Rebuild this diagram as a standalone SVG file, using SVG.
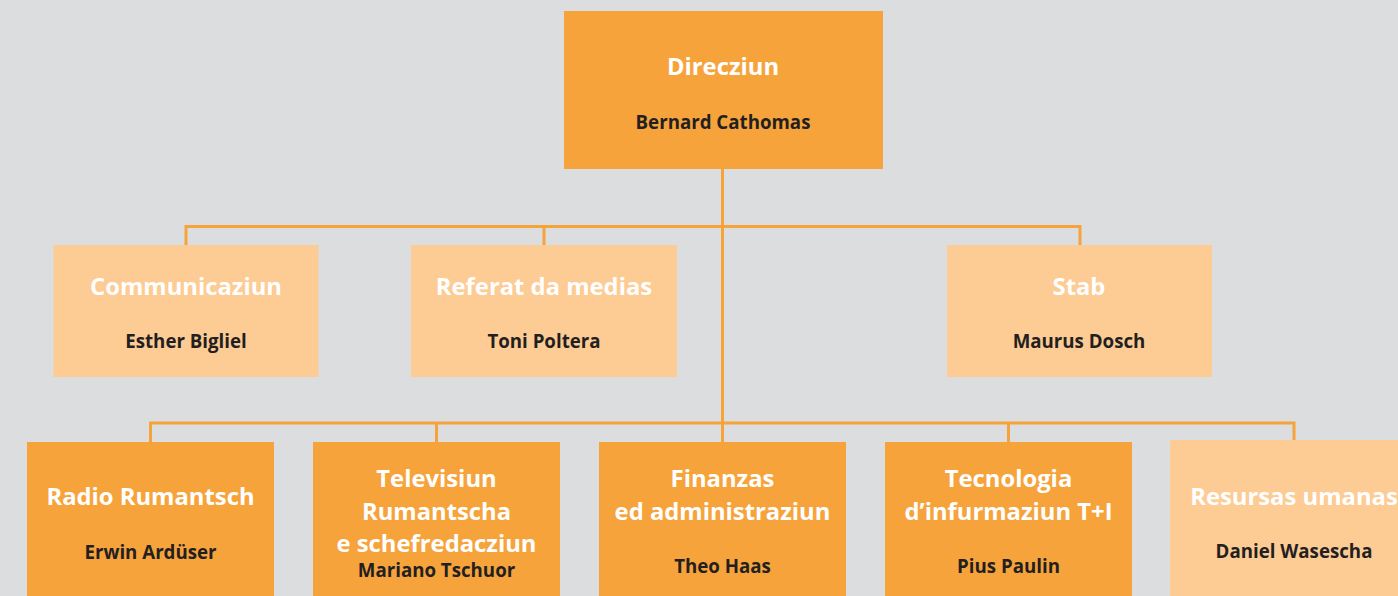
<svg xmlns="http://www.w3.org/2000/svg" width="1398" height="596" viewBox="0 0 1398 596">
<style>
.bg{fill:#dcdddf}
.dark{fill:#f7a33c}
.light{fill:#fdcb94}
.t{font-family:"Open Sans","Liberation Sans",sans-serif;font-weight:700;font-size:23.8px;fill:#ffffff;text-anchor:middle}
.n{font-family:"Open Sans","Liberation Sans",sans-serif;font-weight:700;font-size:18.7px;fill:#231f20;text-anchor:middle}
.c{fill:none;stroke:#f7a33c;stroke-width:3}
</style>
<rect class="bg" x="0" y="0" width="1398" height="596"/>
<g id="connectors">
<path class="c" d="M722.5 169 V442"/>
<path class="c" d="M186 245 V226.5 H1080 V245"/>
<path class="c" d="M544 226.5 V245"/>
<path class="c" d="M150.5 442 V423 H1294 V440"/>
<path class="c" d="M436.5 423 V442"/>
<path class="c" d="M1008.5 423 V442"/>
</g>
<g id="direcziun">
<rect class="dark" x="564" y="11" width="319" height="158"/>
<text class="t" x="723" y="75">Direcziun</text>
<text class="n" x="723" y="129">Bernard Cathomas</text>
</g>
<g id="communicaziun">
<rect class="light" x="53.5" y="245" width="265" height="132"/>
<text class="t" x="186" y="295">Communicaziun</text>
<text class="n" x="186" y="348">Esther Bigliel</text>
</g>
<g id="referat">
<rect class="light" x="411" y="245" width="266" height="132"/>
<text class="t" x="544" y="295">Referat da medias</text>
<text class="n" x="544" y="348">Toni Poltera</text>
</g>
<g id="stab">
<rect class="light" x="947" y="245" width="265" height="132"/>
<text class="t" x="1079" y="295">Stab</text>
<text class="n" x="1079" y="348">Maurus Dosch</text>
</g>
<g id="radio">
<rect class="dark" x="27" y="442" width="247" height="160"/>
<text class="t" x="150.5" y="505">Radio Rumantsch</text>
<text class="n" x="150.5" y="559">Erwin Ardüser</text>
</g>
<g id="televisiun">
<rect class="dark" x="313" y="442" width="247" height="160"/>
<text class="t" x="436.5" y="487">Televisiun</text>
<text class="t" x="436.5" y="520">Rumantscha</text>
<text class="t" x="436.5" y="552">e schefredacziun</text>
<text class="n" x="436.5" y="577">Mariano Tschuor</text>
</g>
<g id="finanzas">
<rect class="dark" x="599" y="442" width="247" height="160"/>
<text class="t" x="722.5" y="487">Finanzas</text>
<text class="t" x="722.5" y="520">ed administraziun</text>
<text class="n" x="722.5" y="573">Theo Haas</text>
</g>
<g id="tecnologia">
<rect class="dark" x="885" y="442" width="247" height="160"/>
<text class="t" x="1008.5" y="487">Tecnologia</text>
<text class="t" x="1008.5" y="520">d’infurmaziun T+I</text>
<text class="n" x="1008.5" y="573">Pius Paulin</text>
</g>
<g id="resursas">
<rect class="light" x="1170" y="440" width="248" height="162"/>
<text class="t" x="1294" y="505">Resursas umanas</text>
<text class="n" x="1294" y="558">Daniel Wasescha</text>
</g>
</svg>
